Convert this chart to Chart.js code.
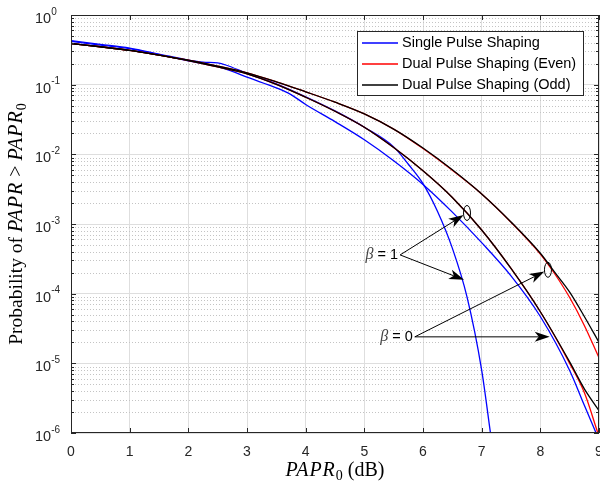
<!DOCTYPE html>
<html>
<head>
<meta charset="utf-8">
<script src="https://cdn.jsdelivr.net/npm/chart.js@4.4.1/dist/chart.umd.min.js"></script>
<style>
  html, body { margin: 0; padding: 0; background: #fff; }
</style>
</head>
<body>
<canvas id="grafico" width="600" height="481"></canvas>
<script>
// valores (PAPR0 em dB, probabilidade)
var xTicks = [0, 1, 2, 3, 4, 5, 6, 7, 8, 9];
var yDecadeExps = [0, -1, -2, -3, -4, -5, -6];
var legendLabels = ['Single Pulse Shaping', 'Dual Pulse Shaping (Even)', 'Dual Pulse Shaping (Odd)'];

// Single pulse shaping, beta = 1 (curva mais ingreme)
var xSingle1 = [0, 0.5, 1, 1.5, 2, 2.25, 2.5, 2.65, 3, 3.5, 4, 4.5, 5, 5.5, 5.75, 6, 6.25, 6.5, 6.75, 7, 7.15];
var ySingle1 = [0.43, 0.38, 0.335, 0.275, 0.225, 0.21, 0.205, 0.19, 0.145, 0.103, 0.067, 0.042, 0.0245, 0.0128, 0.0072, 0.0038, 0.0015, 0.00045, 0.00009, 0.000008, 0.000001];
// Single pulse shaping, beta = 0
var xSingle0 = [0, 0.5, 1, 1.5, 2, 2.5, 2.75, 3, 3.5, 3.75, 4, 4.5, 5, 5.5, 6, 6.5, 7, 7.5, 8, 8.5, 8.75, 8.95];
var ySingle0 = [0.42, 0.37, 0.33, 0.27, 0.22, 0.182, 0.155, 0.128, 0.09, 0.072, 0.052, 0.0295, 0.0162, 0.0081, 0.0037, 0.00148, 0.00054, 0.00018, 0.000047, 0.0000079, 0.0000025, 0.000001];
// Dual pulse shaping, beta = 1
var xEven1 = [0, 0.5, 1, 1.5, 2, 2.5, 3, 3.5, 4, 4.5, 5, 5.5, 6, 6.5, 7, 7.5, 8, 8.5, 8.75, 8.98];
var yEven1 = [0.39, 0.35, 0.31, 0.265, 0.222, 0.18, 0.143, 0.101, 0.066, 0.0415, 0.0245, 0.0125, 0.0058, 0.0024, 0.00082, 0.00023, 0.000055, 0.00001, 0.0000038, 0.000001];
var xOdd1 = [0, 0.5, 1, 1.5, 2, 2.5, 3, 3.5, 4, 4.5, 5, 5.5, 6, 6.5, 7, 7.5, 8, 8.5, 8.75, 9];
var yOdd1 = [0.39, 0.35, 0.31, 0.265, 0.222, 0.18, 0.143, 0.101, 0.066, 0.0415, 0.0245, 0.0125, 0.0058, 0.0024, 0.00082, 0.00023, 0.000055, 0.0000105, 0.0000043, 0.0000021];
// Dual pulse shaping, beta = 0
var xEven0 = [0, 0.5, 1, 1.5, 2, 2.5, 3, 3.5, 4, 4.5, 5, 5.5, 6, 6.5, 7, 7.5, 8, 8.25, 8.5, 8.75, 9];
var yEven0 = [0.39, 0.35, 0.31, 0.265, 0.225, 0.185, 0.148, 0.11, 0.079, 0.056, 0.038, 0.023, 0.0121, 0.0059, 0.0027, 0.00106, 0.00037, 0.00019, 0.000088, 0.000035, 0.000012];
var xOdd0 = [0, 0.5, 1, 1.5, 2, 2.5, 3, 3.5, 4, 4.5, 5, 5.5, 6, 6.5, 7, 7.5, 8, 8.25, 8.5, 8.75, 9];
var yOdd0 = [0.39, 0.35, 0.31, 0.265, 0.225, 0.185, 0.148, 0.11, 0.079, 0.056, 0.038, 0.023, 0.0123, 0.006, 0.0027, 0.00107, 0.00038, 0.0002, 0.000105, 0.000047, 0.00002];

// anotacoes (em coordenadas de dados)
var betaLabels = ['1', '0'];
var betaTextPos = [[5.61, 3.6e-4], [5.86, 2.4e-5]];
var betaEllipse = [[6.75, 1.44e-3], [8.13, 2.2e-4]];
var betaArrowTip = [[6.70, 1.58e-4], [8.16, 2.4e-5]];

var sans = '"Liberation Sans", Arial, Helvetica, sans-serif';
var serif = '"Liberation Serif", "Times New Roman", serif';
var axisColor = '#262626';

function pontos(xs, ys) {
    return xs.map(function (x, i) { return { x: x, y: ys[i] }; });
}

function serie(label, xs, ys, cor, ordem) {
    return {
        label: label,
        data: pontos(xs, ys),
        borderColor: cor,
        borderWidth: 1.3,
        pointRadius: 0,
        fill: false,
        cubicInterpolationMode: 'monotone',
        order: ordem
    };
}

//Desenha uma seta com ponta cheia
function seta(ctx, x0, y0, x1, y1) {
    var ang = Math.atan2(y1 - y0, x1 - x0);
    var len = 15, half = 5, notch = 4;
    ctx.beginPath();
    ctx.moveTo(x0, y0);
    ctx.lineTo(x1 - Math.cos(ang) * (len - notch), y1 - Math.sin(ang) * (len - notch));
    ctx.stroke();
    ctx.save();
    ctx.translate(x1, y1);
    ctx.rotate(ang);
    ctx.beginPath();
    ctx.moveTo(0, 0);
    ctx.lineTo(-len, -half);
    ctx.lineTo(-len + notch, 0);
    ctx.lineTo(-len, half);
    ctx.closePath();
    ctx.fill();
    ctx.restore();
}

// escreve partes de texto com fontes diferentes em sequencia
function textoMisto(ctx, partes, x0, y0) {
    var x = x0;
    partes.forEach(function (p) {
        ctx.font = p[1];
        ctx.letterSpacing = p[3] || '0px';
        ctx.fillText(p[0], x, y0 + p[2]);
        x += ctx.measureText(p[0]).width;
    });
    ctx.letterSpacing = '0px';
}
function larguraMista(ctx, partes) {
    var w = 0;
    partes.forEach(function (p) {
        ctx.font = p[1];
        ctx.letterSpacing = p[3] || '0px';
        w += ctx.measureText(p[0]).width;
    });
    ctx.letterSpacing = '0px';
    return w;
}

var moldura = {
    id: 'moldura',
    beforeDatasetsDraw: function (chart) {
        var ctx = chart.ctx, a = chart.chartArea, ys = chart.scales.y;
        // grade secundaria pontilhada
        ctx.save();
        ctx.strokeStyle = '#c4c4c4';
        ctx.lineWidth = 1;
        ctx.setLineDash([1, 2]);
        yDecadeExps.forEach(function (e) {
            if (e === 0) return;
            for (var m = 2; m <= 9; m++) {
                var py = Math.round(ys.getPixelForValue(m * Math.pow(10, e))) + 0.5;
                ctx.beginPath();
                ctx.moveTo(a.left + 1, py);
                ctx.lineTo(a.right, py);
                ctx.stroke();
            }
        });
        ctx.restore();
    },
    afterDatasetsDraw: function (chart) {
        var ctx = chart.ctx, a = chart.chartArea;
        var xs = chart.scales.x, ys = chart.scales.y;
        ctx.save();
        // caixa
        ctx.strokeStyle = axisColor;
        ctx.lineWidth = 1;
        ctx.strokeRect(a.left + 0.5, a.top + 0.5, a.right - a.left - 1, a.bottom - a.top - 1);
        // marcas para dentro
        ctx.beginPath();
        xTicks.forEach(function (v) {
            var px = Math.round(xs.getPixelForValue(v)) + 0.5;
            ctx.moveTo(px, a.bottom); ctx.lineTo(px, a.bottom - 5);
            ctx.moveTo(px, a.top); ctx.lineTo(px, a.top + 5);
        });
        yDecadeExps.forEach(function (e) {
            var py = Math.round(ys.getPixelForValue(Math.pow(10, e))) + 0.5;
            ctx.moveTo(a.left, py); ctx.lineTo(a.left + 5, py);
            ctx.moveTo(a.right, py); ctx.lineTo(a.right - 5, py);
            if (e === 0) return;
            for (var m = 2; m <= 9; m++) {
                var pm = Math.round(ys.getPixelForValue(m * Math.pow(10, e))) + 0.5;
                ctx.moveTo(a.left, pm); ctx.lineTo(a.left + 3, pm);
                ctx.moveTo(a.right, pm); ctx.lineTo(a.right - 3, pm);
            }
        });
        ctx.stroke();

        // rotulos dos eixos
        ctx.fillStyle = axisColor;
        ctx.font = '14px ' + sans;
        ctx.textAlign = 'center';
        ctx.textBaseline = 'middle';
        xTicks.forEach(function (v) {
            ctx.fillText(String(v), xs.getPixelForValue(v), a.bottom + 19);
        });
        ctx.textAlign = 'left';
        yDecadeExps.forEach(function (e) {
            var py = ys.getPixelForValue(Math.pow(10, e));
            ctx.font = '14.5px ' + sans;
            ctx.fillText('10', 35, py + 4);
            var w = ctx.measureText('10').width;
            ctx.font = '10px ' + sans;
            ctx.fillText(String(e), 35 + w, py - 3);
        });

        // titulo do eixo x
        ctx.fillStyle = '#000';
        ctx.textBaseline = 'alphabetic';
        var partsX = [['PAPR', 'italic 20px ' + serif, 0, '1px'], ['0', '14px ' + serif, 4], [' (dB)', '20px ' + serif, 0]];
        var wx = larguraMista(ctx, partsX);
        textoMisto(ctx, partsX, (a.left + a.right) / 2 - wx / 2, 476);

        // titulo do eixo y
        var partsY = [['Probability of ', '19.5px ' + serif, 0], ['PAPR', 'italic 20px ' + serif, 0, '1px'], [' > ', '20px ' + serif, 0],
                      ['PAPR', 'italic 20px ' + serif, 0, '1px'], ['0', '14px ' + serif, 4]];
        var wy = larguraMista(ctx, partsY);
        ctx.save();
        ctx.translate(21.5, (a.top + a.bottom) / 2);
        ctx.rotate(-Math.PI / 2);
        textoMisto(ctx, partsY, -wy / 2, 0);
        ctx.restore();

        // anotacoes beta
        ctx.strokeStyle = '#000';
        ctx.fillStyle = '#000';
        ctx.lineWidth = 1;
        betaLabels.forEach(function (lab, i) {
            var tx = xs.getPixelForValue(betaTextPos[i][0]);
            var ty = ys.getPixelForValue(betaTextPos[i][1]);
            var ex = xs.getPixelForValue(betaEllipse[i][0]);
            var ey = ys.getPixelForValue(betaEllipse[i][1]);
            var ax = xs.getPixelForValue(betaArrowTip[i][0]);
            var ay = ys.getPixelForValue(betaArrowTip[i][1]);
            // elipse
            ctx.beginPath();
            ctx.ellipse(ex, ey, 3.5, 7.5, 0, 0, Math.PI * 2);
            ctx.stroke();
            var ang = Math.atan2(ey - ty, ex - tx);
            seta(ctx, tx, ty, ex - Math.cos(ang) * 4, ey - Math.sin(ang) * 4);
            seta(ctx, tx, ty, ax, ay);
            // texto
            ctx.textBaseline = 'middle';
            ctx.textAlign = 'left';
            ctx.font = '14.5px ' + sans;
            var wRest = ctx.measureText(' = ' + lab).width;
            ctx.font = 'italic 16px ' + serif;
            var wB = ctx.measureText('\u03b2').width;
            var sx = tx - 2 - wRest - wB;
            ctx.fillStyle = '#444';
            ctx.fillText('\u03b2', sx, ty);
            ctx.fillStyle = '#000';
            ctx.font = '14.5px ' + sans;
            ctx.fillText(' = ' + lab, sx + wB, ty);
        });

        // legenda
        var lx = a.right - 242, ly = a.top + 16, lw = 226, lh = 64;
        ctx.fillStyle = '#fff';
        ctx.fillRect(lx, ly, lw, lh);
        ctx.strokeStyle = axisColor;
        ctx.strokeRect(lx + 0.5, ly + 0.5, lw, lh);
        var cores = ['#0000ff', '#ff0000', '#000000'];
        ctx.font = '14.5px ' + sans;
        ctx.textBaseline = 'middle';
        legendLabels.forEach(function (lab, i) {
            var rowY = ly + 12 + i * 21;
            ctx.strokeStyle = cores[i];
            ctx.lineWidth = 1.3;
            ctx.beginPath();
            ctx.moveTo(lx + 5, rowY);
            ctx.lineTo(lx + 41, rowY);
            ctx.stroke();
            ctx.fillStyle = '#000';
            ctx.fillText(lab, lx + 45, rowY);
        });
        ctx.restore();
    }
};

var ctx = document.getElementById('grafico');
var grafico = new Chart(ctx, {
    type: 'line',
    data: {
        datasets: [
            serie(legendLabels[0], xSingle1, ySingle1, '#0000ff', 3),
            serie(legendLabels[0], xSingle0, ySingle0, '#0000ff', 3),
            serie(legendLabels[1], xEven1, yEven1, '#ff0000', 2),
            serie(legendLabels[1], xEven0, yEven0, '#ff0000', 2),
            serie(legendLabels[2], xOdd1, yOdd1, '#000000', 1),
            serie(legendLabels[2], xOdd0, yOdd0, '#000000', 1)
        ]
    },
    options: {
        responsive: false,
        animation: false,
        devicePixelRatio: 1,
        layout: { padding: { left: 71, right: 1, top: 15, bottom: 48 } },
        plugins: { legend: { display: false }, tooltip: { enabled: false } },
        scales: {
            x: {
                type: 'linear', min: 0, max: 9,
                ticks: { display: false, stepSize: 1 },
                grid: { color: '#dedede', drawTicks: false },
                border: { display: false },
                afterFit: function (s) { s.height = 0; }
            },
            y: {
                type: 'logarithmic', min: 1e-6, max: 1,
                ticks: { display: false },
                grid: { color: '#dedede', drawTicks: false },
                border: { display: false },
                afterBuildTicks: function (s) {
                    s.ticks = yDecadeExps.map(function (e) { return { value: Math.pow(10, e) }; });
                },
                afterFit: function (s) { s.width = 0; }
            }
        }
    },
    plugins: [moldura]
});
</script>
</body>
</html>
